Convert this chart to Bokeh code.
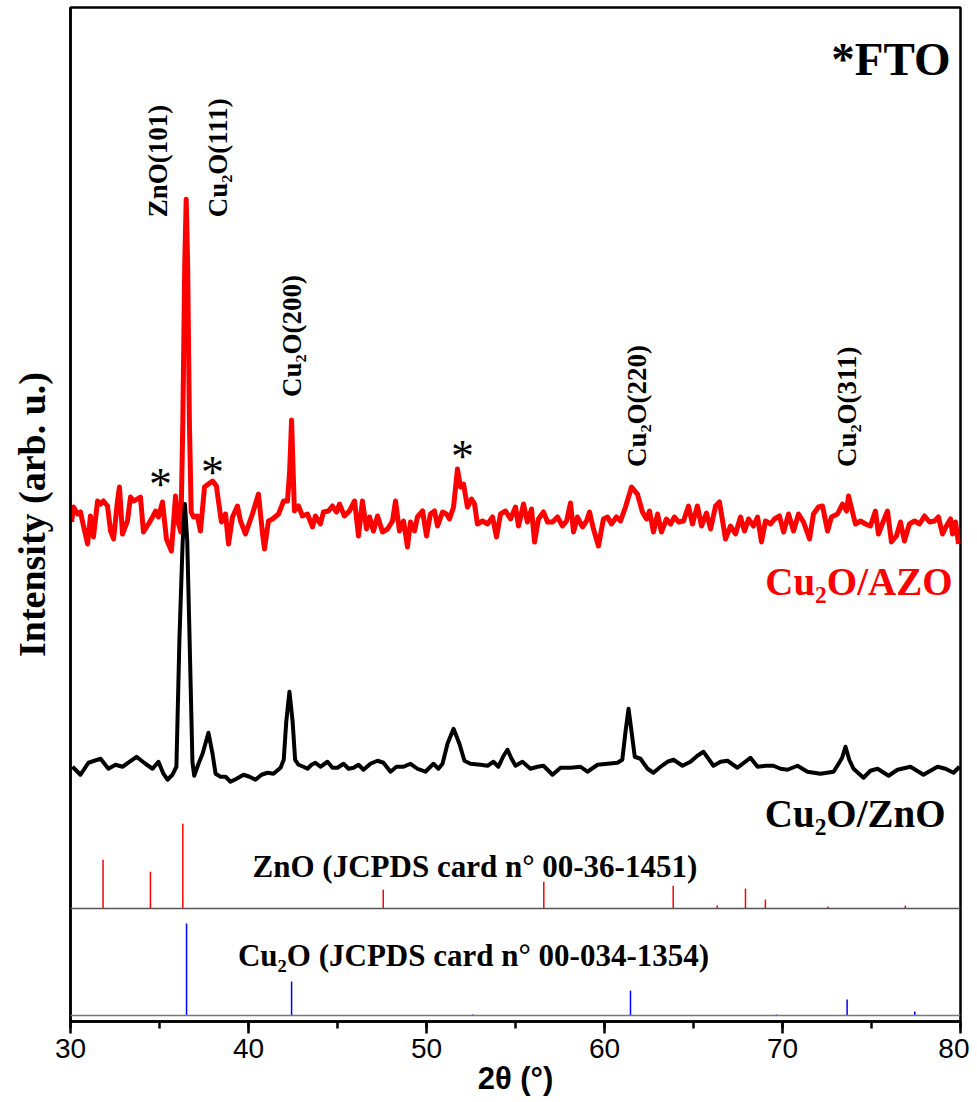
import numpy as np
from bokeh.plotting import figure
from bokeh.models import Range1d, SingleIntervalTicker, FixedTicker, Span
from bokeh.core.properties import value
from bokeh.embed import file_html
from bokeh.resources import INLINE

# ---------------- data (2θ in degrees, intensity in arb. units, offsets included) -------------
azo_two_theta = [30.06, 30.17, 30.39, 30.56, 30.73, 30.96, 31.12, 31.29, 31.52, 31.69, 31.85, 32.08,
                 32.25, 32.42, 32.64, 32.75, 32.92, 33.20, 33.37, 33.54, 33.76, 33.93, 34.10, 34.38,
                 34.61, 34.78, 34.94, 35.17, 35.39, 35.67, 35.90, 36.07, 36.20, 36.31, 36.42, 36.50,
                 36.58, 36.68, 36.78, 36.91, 37.13, 37.30, 37.53, 37.75, 37.98, 38.20, 38.31, 38.48,
                 38.71, 38.88, 39.10, 39.38, 39.55, 39.83, 40.22, 40.56, 40.79, 40.90, 41.12, 41.35,
                 41.69, 41.97, 42.19, 42.31, 42.42, 42.51, 42.58, 42.81, 43.03, 43.31, 43.60, 43.76,
                 44.04, 44.21, 44.49, 44.72, 44.94, 45.11, 45.39, 45.67, 45.96, 46.18, 46.40, 46.63,
                 46.80, 47.02, 47.25, 47.53, 47.81, 48.09, 48.26, 48.48, 48.71, 48.93, 49.10, 49.33,
                 49.49, 49.78, 50.00, 50.22, 50.45, 50.62, 50.90, 51.12, 51.29, 51.52, 51.74, 51.91,
                 52.08, 52.30, 52.53, 52.70, 52.86, 53.15, 53.43, 53.71, 53.93, 54.16, 54.44, 54.72,
                 55.00, 55.17, 55.45, 55.67, 55.90, 56.07, 56.29, 56.57, 56.80, 57.08, 57.36, 57.64,
                 57.87, 58.09, 58.26, 58.48, 58.76, 58.99, 59.16, 59.38, 59.66, 59.94, 60.17, 60.39,
                 60.67, 60.90, 61.18, 61.52, 61.85, 62.13, 62.36, 62.53, 62.75, 62.98, 63.20, 63.48,
                 63.71, 63.93, 64.16, 64.44, 64.72, 64.94, 65.22, 65.45, 65.73, 65.96, 66.24, 66.46,
                 66.80, 67.08, 67.36, 67.64, 67.87, 68.09, 68.37, 68.60, 68.82, 69.04, 69.33, 69.55,
                 69.83, 70.06, 70.34, 70.62, 70.90, 71.18, 71.52, 71.74, 72.02, 72.25, 72.53, 72.75,
                 73.09, 73.37, 73.60, 73.71, 73.93, 74.10, 74.38, 74.66, 74.94, 75.22, 75.39, 75.67,
                 75.90, 76.12, 76.40, 76.63, 76.85, 77.13, 77.42, 77.70, 77.98, 78.26, 78.54, 78.76,
                 78.99, 79.27, 79.44, 79.55, 79.72, 79.89]
azo_intensity = [500, 515, 508, 510, 496, 478, 506, 485, 521, 518, 521, 516,
                 491, 483, 521, 535, 488, 501, 525, 521, 523, 525, 490, 498,
                 505, 511, 505, 520, 483, 471, 526, 498, 490, 600, 760, 823,
                 760, 600, 510, 505, 506, 491, 535, 538, 541, 536, 521, 500,
                 508, 478, 505, 516, 501, 488, 508, 528, 488, 473, 501, 503,
                 508, 521, 521, 550, 602, 550, 511, 516, 506, 508, 495, 506,
                 498, 510, 511, 516, 510, 518, 506, 511, 521, 486, 521, 493,
                 505, 491, 506, 490, 493, 501, 521, 491, 501, 475, 500, 491,
                 505, 511, 486, 508, 511, 496, 510, 508, 503, 515, 553, 535,
                 538, 515, 523, 518, 498, 501, 498, 505, 485, 508, 511, 503,
                 515, 496, 518, 500, 513, 480, 503, 510, 500, 500, 505, 496,
                 501, 519, 490, 505, 495, 501, 510, 493, 476, 503, 505, 498,
                 505, 501, 515, 535, 528, 510, 503, 511, 490, 508, 490, 503,
                 498, 505, 500, 501, 516, 498, 516, 496, 509, 493, 516, 520,
                 483, 496, 488, 505, 491, 503, 496, 505, 480, 501, 498, 503,
                 506, 490, 508, 491, 508, 500, 483, 508, 515, 516, 491, 505,
                 508, 518, 511, 526, 510, 498, 501, 498, 496, 511, 488, 501,
                 511, 480, 486, 500, 481, 498, 501, 498, 506, 500, 501, 505,
                 488, 498, 503, 488, 500, 478]

zno_two_theta = [30.11, 30.56, 31.01, 31.69, 32.13, 32.53, 32.92, 33.71, 34.21, 34.61, 34.94, 35.22,
                 35.45, 35.73, 35.95, 36.12, 36.30, 36.43, 36.56, 36.69, 36.85, 36.95, 37.19, 37.42,
                 37.75, 37.98, 38.15, 38.43, 38.71, 38.99, 39.33, 39.72, 40.06, 40.39, 40.73, 41.07,
                 41.40, 41.80, 41.98, 42.12, 42.30, 42.48, 42.62, 42.81, 43.09, 43.31, 43.54, 43.76,
                 44.04, 44.44, 44.72, 45.00, 45.34, 45.62, 45.90, 46.18, 46.46, 46.85, 47.25, 47.58,
                 47.98, 48.31, 48.71, 49.10, 49.49, 49.94, 50.22, 50.39, 50.67, 50.90, 51.18, 51.52,
                 51.85, 52.13, 52.47, 53.03, 53.43, 53.76, 54.04, 54.33, 54.55, 54.78, 55.00, 55.39,
                 55.84, 56.24, 56.57, 57.08, 57.53, 58.09, 58.65, 59.04, 59.61, 60.17, 60.73, 61.00,
                 61.18, 61.35, 61.52, 61.70, 62.02, 62.42, 62.75, 63.15, 63.54, 63.88, 64.38, 64.83,
                 65.22, 65.56, 66.12, 66.52, 66.91, 67.47, 68.20, 68.60, 69.04, 69.49, 69.89, 70.28,
                 70.84, 71.40, 72.13, 72.87, 73.15, 73.35, 73.54, 73.75, 73.99, 74.55, 74.94, 75.34,
                 75.96, 76.46, 77.19, 77.92, 78.31, 78.71, 79.16, 79.61, 79.94]
zno_intensity = [255, 247, 259, 263, 253, 257, 255, 265, 258, 253, 260, 248,
                 242, 247, 255, 383, 480, 518, 480, 383, 260, 246, 258, 268,
                 289, 268, 248, 245, 245, 240, 243, 247, 245, 242, 247, 249,
                 248, 254, 262, 300, 330, 300, 262, 257, 255, 253, 257, 259,
                 255, 260, 254, 254, 258, 253, 254, 257, 252, 258, 261, 259,
                 250, 255, 255, 258, 253, 250, 255, 258, 253, 258, 278, 293,
                 278, 261, 258, 257, 256, 260, 255, 266, 272, 263, 256, 260,
                 253, 255, 256, 247, 254, 254, 255, 250, 257, 258, 259, 262,
                 290, 313, 290, 265, 263, 253, 249, 255, 260, 262, 256, 260,
                 266, 270, 256, 260, 261, 254, 264, 255, 256, 256, 253, 252,
                 256, 250, 248, 250, 258, 264, 275, 262, 253, 244, 251, 253,
                 246, 252, 255, 247, 251, 255, 253, 249, 255]

# reference patterns (stick positions and heights, each on its own baseline)
zno_ref_two_theta = [31.83, 34.49, 36.31, 47.57, 56.59, 63.86, 66.33, 67.92, 69.04, 72.56, 76.90]
zno_ref_height = [49, 37, 85, 19, 27, 23, 3, 20, 9, 2, 3]
zno_ref_baseline = 113
cu2o_ref_two_theta = [36.52, 42.42, 52.60, 61.46, 69.66, 73.63, 77.43]
cu2o_ref_height = [92, 34, 1, 25, 1, 16, 4]
cu2o_ref_baseline = 6

# peak labels
peak_labels = ["ZnO(101)", "Cu\u2082O(111)", "Cu\u2082O(200)", "Cu\u2082O(220)", "Cu\u2082O(311)"]
peak_label_x = [34.94, 38.30, 42.47, 61.80, 73.60]
peak_label_y = [805, 805, 625, 555, 555]
fto_star_x = [35.06, 37.98, 52.02]
fto_star_y = [538, 550, 566]

x_ticks = [30, 40, 50, 60, 70, 80]

SERIF = value("Liberation Serif")

p = figure(width=969, height=1098, output_backend="svg", toolbar_location=None,
           x_range=Range1d(30, 80), y_range=Range1d(0, 1015),
           min_border_left=70, min_border_right=9, min_border_top=7, min_border_bottom=0)
p.background_fill_color = "white"
p.border_fill_color = "white"
p.grid.visible = False
p.outline_line_color = "black"
p.outline_line_width = 2.5

# x axis
p.xaxis.ticker = SingleIntervalTicker(interval=10, num_minor_ticks=2)
p.xaxis.axis_line_width = 2.5
p.xaxis.major_tick_line_width = 2.5
p.xaxis.minor_tick_line_width = 2.5
p.xaxis.major_tick_in = 0
p.xaxis.major_tick_out = 12
p.xaxis.minor_tick_in = 0
p.xaxis.minor_tick_out = 7
p.xaxis.major_label_text_font = "Liberation Sans"
p.xaxis.major_label_text_font_size = "28px"
p.xaxis.major_label_text_color = "black"
p.xaxis.major_label_standoff = 5
p.xaxis.axis_label = "2\u03b8 (\u00b0)"
p.xaxis.axis_label_text_font = "Liberation Sans"
p.xaxis.axis_label_text_font_style = "bold"
p.xaxis.axis_label_text_font_size = "31px"
p.xaxis.axis_label_text_color = "black"
p.xaxis.axis_label_standoff = 0

# y axis (label only)
p.yaxis.ticker = FixedTicker(ticks=[])
p.yaxis.axis_line_width = 2.5
p.yaxis.major_label_standoff = 0
p.yaxis.axis_label = "Intensity (arb. u.)"
p.yaxis.axis_label_text_font = "Liberation Serif"
p.yaxis.axis_label_text_font_style = "bold"
p.yaxis.axis_label_text_font_size = "38px"
p.yaxis.axis_label_text_color = "black"
p.yaxis.axis_label_standoff = 18

# baselines of reference patterns
p.add_layout(Span(location=zno_ref_baseline, dimension="width", line_color="#555555", line_width=1.5))
p.add_layout(Span(location=cu2o_ref_baseline, dimension="width", line_color="#777777", line_width=1.5))

# reference sticks
p.segment(x0=zno_ref_two_theta, y0=[zno_ref_baseline] * len(zno_ref_two_theta),
          x1=zno_ref_two_theta, y1=[zno_ref_baseline + h for h in zno_ref_height],
          line_color="#ff0000", line_width=1.5)
p.segment(x0=cu2o_ref_two_theta, y0=[cu2o_ref_baseline] * len(cu2o_ref_two_theta),
          x1=cu2o_ref_two_theta, y1=[cu2o_ref_baseline + h for h in cu2o_ref_height],
          line_color="#0000ff", line_width=1.5)

# XRD patterns
p.line(azo_two_theta, azo_intensity, line_color="#ff0000", line_width=5, line_join="round")
p.line(zno_two_theta, zno_intensity, line_color="black", line_width=4, line_join="round")

# peak labels (rotated)
p.text(x=peak_label_x, y=peak_label_y, text=peak_labels, angle=np.pi / 2,
       text_font=SERIF, text_font_style="bold", text_font_size="27px",
       text_align="left", text_baseline="middle", text_color="black")

# FTO stars
p.text(x=fto_star_x, y=fto_star_y, text=["*"] * len(fto_star_x),
       text_font=SERIF, text_font_size="46px", text_align="center",
       text_baseline="alphabetic", text_color="black")

# sample / reference labels
p.text(x=[79.44], y=[963], text=["*FTO"], text_font=SERIF, text_font_style="bold",
       text_font_size="47px", text_align="right", text_baseline="alphabetic", text_color="black")
p.text(x=[79.55], y=[440], text=["Cu\u2082O/AZO"], text_font=SERIF, text_font_style="bold",
       text_font_size="39px", text_align="right", text_baseline="alphabetic", text_color="#ff0000")
p.text(x=[79.16], y=[208], text=["Cu\u2082O/ZnO"], text_font=SERIF, text_font_style="bold",
       text_font_size="39px", text_align="right", text_baseline="alphabetic", text_color="black")
p.text(x=[52.72], y=[155], text=["ZnO (JCPDS card n\u00b0 00-36-1451)"], text_font=SERIF,
       text_font_style="bold", text_font_size="31px", text_align="center",
       text_baseline="alphabetic", text_color="black")
p.text(x=[52.64], y=[66], text=["Cu\u2082O (JCPDS card n\u00b0 00-034-1354)"], text_font=SERIF,
       text_font_style="bold", text_font_size="31px", text_align="center",
       text_baseline="alphabetic", text_color="black")

open("out.html", "w").write(file_html(p, INLINE))
